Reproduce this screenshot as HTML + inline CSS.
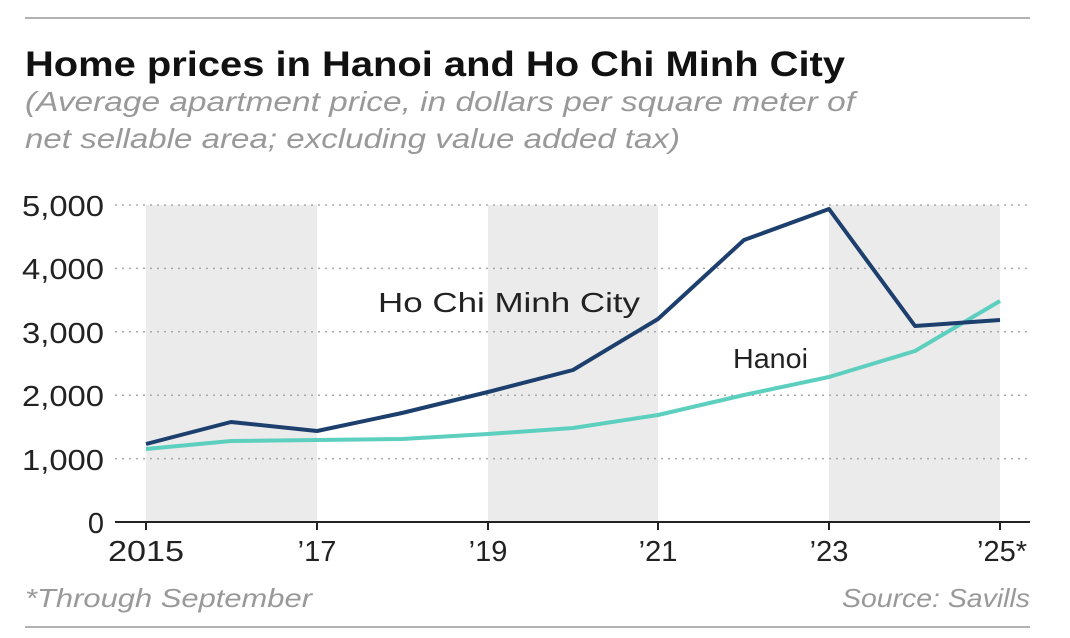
<!DOCTYPE html>
<html><head><meta charset="utf-8"><style>
html,body{margin:0;padding:0;background:#fff;}
body{width:1070px;height:633px;overflow:hidden;font-family:"Liberation Sans",sans-serif;}
</style></head><body>
<svg width="1070" height="633" viewBox="0 0 1070 633" xmlns="http://www.w3.org/2000/svg" font-family="Liberation Sans, sans-serif">
<line x1="25" y1="18" x2="1030" y2="18" stroke="#999" stroke-width="1.5"/>
<text x="25" y="76" font-size="35" font-weight="bold" fill="#111" textLength="820" lengthAdjust="spacingAndGlyphs">Home prices in Hanoi and Ho Chi Minh City</text>
<text x="25" y="111" font-size="28" font-style="italic" fill="#999" textLength="830" lengthAdjust="spacingAndGlyphs">(Average apartment price, in dollars per square meter of</text>
<text x="25" y="148" font-size="28" font-style="italic" fill="#999" textLength="655" lengthAdjust="spacingAndGlyphs">net sellable area; excluding value added tax)</text>
<g fill="#ebebeb">
<rect x="146" y="205" width="171" height="317"/>
<rect x="488" y="205" width="170" height="317"/>
<rect x="829" y="205" width="171" height="317"/>
</g>
<g stroke="#aaa" stroke-width="1.5" stroke-dasharray="2,5">
<line x1="115" y1="205" x2="1030" y2="205"/>
<line x1="115" y1="268.4" x2="1030" y2="268.4"/>
<line x1="115" y1="331.8" x2="1030" y2="331.8"/>
<line x1="115" y1="395.2" x2="1030" y2="395.2"/>
<line x1="115" y1="458.6" x2="1030" y2="458.6"/>
</g>
<line x1="115" y1="522" x2="1030" y2="522" stroke="#222" stroke-width="2"/>
<g stroke="#222" stroke-width="2">
<line x1="146" y1="522" x2="146" y2="530"/><line x1="317" y1="522" x2="317" y2="530"/>
<line x1="488" y1="522" x2="488" y2="530"/><line x1="658" y1="522" x2="658" y2="530"/>
<line x1="829" y1="522" x2="829" y2="530"/><line x1="1000" y1="522" x2="1000" y2="530"/>
</g>
<g font-size="29" fill="#222">
<text x="22" y="216" textLength="82" lengthAdjust="spacingAndGlyphs">5,000</text>
<text x="22" y="279" textLength="82" lengthAdjust="spacingAndGlyphs">4,000</text>
<text x="22" y="343" textLength="82" lengthAdjust="spacingAndGlyphs">3,000</text>
<text x="22" y="406" textLength="82" lengthAdjust="spacingAndGlyphs">2,000</text>
<text x="22" y="470" textLength="82" lengthAdjust="spacingAndGlyphs">1,000</text>
<text x="104" y="533" text-anchor="end">0</text>
</g>
<g font-size="29" fill="#222" text-anchor="middle">
<text x="146" y="561" textLength="76" lengthAdjust="spacingAndGlyphs">2015</text><text x="317" y="561">’17</text>
<text x="488" y="561">’19</text><text x="658" y="561">’21</text>
<text x="829" y="561">’23</text><text x="1002" y="561">’25*</text>
</g>
<polyline fill="none" stroke="#5ccfbf" stroke-width="4" stroke-linejoin="round" points="146,449 231,441 317,440 402,439 488,434 573,428 658,415 744,395 829,377 915,351 1000,301"/>
<polyline fill="none" stroke="#1d3f6e" stroke-width="4" stroke-linejoin="round" points="146,444 231,422 317,431 402,413 488,392 573,370 658,319 744,240 829,209 915,326 1000,320"/>
<text x="378" y="312" font-size="28" fill="#222" textLength="262" lengthAdjust="spacingAndGlyphs">Ho Chi Minh City</text>
<text x="733" y="368" font-size="28" fill="#222" textLength="75" lengthAdjust="spacingAndGlyphs">Hanoi</text>
<text x="25" y="607" font-size="26" font-style="italic" fill="#999" textLength="287" lengthAdjust="spacingAndGlyphs">*Through September</text>
<text x="842" y="607" font-size="26" font-style="italic" fill="#999" textLength="188" lengthAdjust="spacingAndGlyphs">Source: Savills</text>
<line x1="25" y1="627" x2="1030" y2="627" stroke="#999" stroke-width="1.5"/>
</svg>
</body></html>
